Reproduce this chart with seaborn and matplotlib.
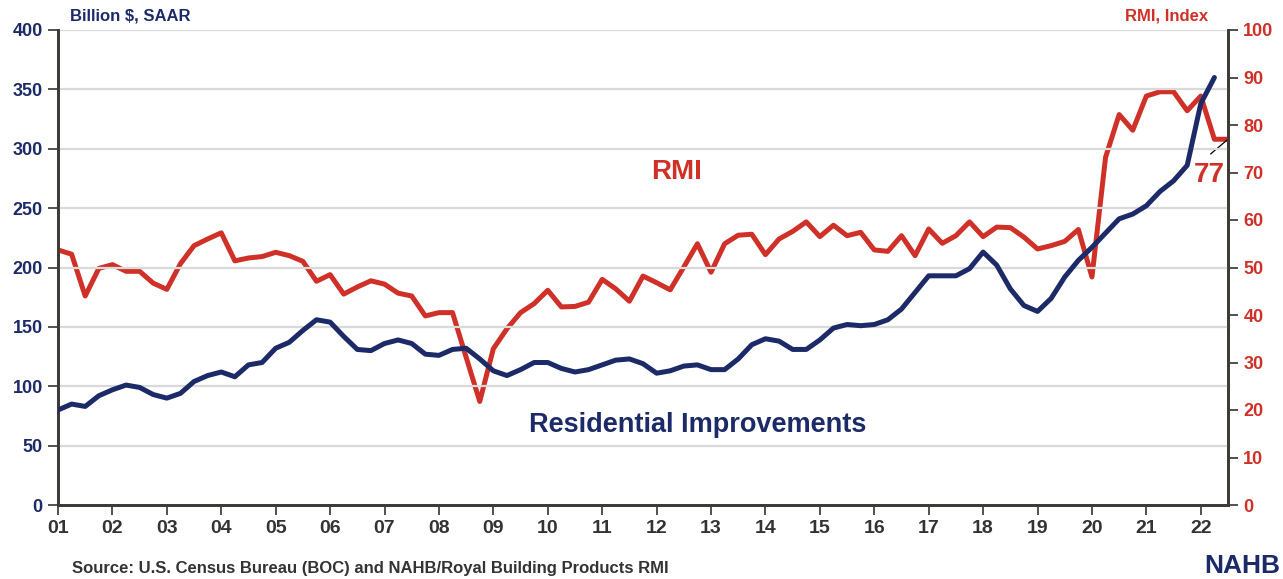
import numpy as np
import pandas as pd
import matplotlib
matplotlib.use("Agg")
import matplotlib.pyplot as plt
import seaborn as sns

# quarterly values, 2001 Q1 onward
residential_improvements = [
    80, 85, 83, 92, 97, 101, 99, 93, 90, 94, 104, 109,
    112, 108, 118, 120, 132, 137, 147, 156, 154, 142, 131, 130,
    136, 139, 136, 127, 126, 131, 132, 123, 113, 109, 114, 120,
    120, 115, 112, 114, 118, 122, 123, 119, 111, 113, 117, 118,
    114, 114, 123, 135, 140, 138, 131, 131, 139, 149, 152, 151,
    152, 156, 165, 179, 193, 193, 193, 199, 213, 202, 182, 168,
    163, 174, 192, 206, 217, 229, 241, 245, 252, 264, 273, 286,
    338, 360,
]
rmi_index = [
    53.7, 52.8, 44.0, 49.8, 50.6, 49.2, 49.2, 46.7, 45.4, 50.8, 54.6, 56.0,
    57.3, 51.4, 52.0, 52.3, 53.2, 52.5, 51.3, 47.1, 48.5, 44.4, 45.9, 47.2,
    46.5, 44.6, 44.0, 39.8, 40.5, 40.5, 31.1, 21.8, 32.9, 37.1, 40.5, 42.4,
    45.2, 41.7, 41.8, 42.7, 47.5, 45.5, 42.9, 48.2, 46.8, 45.3, 50.1, 55.0,
    49.0, 55.0, 56.8, 57.0, 52.7, 56.0, 57.6, 59.6, 56.5, 58.9, 56.7, 57.4,
    53.7, 53.4, 56.7, 52.5, 58.1, 55.1, 56.7, 59.6, 56.5, 58.5, 58.4, 56.4,
    53.9, 54.6, 55.5, 58.0, 48.0, 73.2, 82.2, 78.9, 86.1, 87.0, 87.0, 83.0,
    86.1, 77.0, 77.0,
]
year_ticks = list(range(2001, 2023))
year_labels = [f"{y % 100:02d}" for y in year_ticks]
left_ticks = [0, 50, 100, 150, 200, 250, 300, 350, 400]
right_ticks = [0, 10, 20, 30, 40, 50, 60, 70, 80, 90, 100]

NAVY = "#1C2B68"
RED = "#CF3128"
GRAY = "#333333"

ri = pd.DataFrame({"quarter": 2001 + np.arange(len(residential_improvements)) / 4,
                   "value": residential_improvements})
rmi = pd.DataFrame({"quarter": 2001 + np.arange(len(rmi_index)) / 4,
                    "value": rmi_index})

sns.set_style("white")
plt.rcParams["font.family"] = ["Liberation Sans", "DejaVu Sans"]

fig = plt.figure(figsize=(12.83, 5.79), dpi=100)
ax = fig.add_axes([58 / 1283, 1 - 505 / 579, 1170 / 1283, 475 / 579])
ax2 = ax.twinx()

# gridlines on the left scale
for v in left_ticks[1:]:
    ax.axhline(v, color="#D9D9D9", lw=1.6, zorder=0)

sns.lineplot(data=rmi, x="quarter", y="value", ax=ax2, color=RED, lw=3.6,
             zorder=3)
sns.lineplot(data=ri, x="quarter", y="value", ax=ax, color=NAVY, lw=3.6,
             zorder=3)
# draw RI above RMI: put left axes on top with transparent background
ax.set_zorder(ax2.get_zorder() + 1)
ax.patch.set_visible(False)

ax.set_xlim(2001, 2022.5)
ax.set_ylim(0, 400)
ax2.set_ylim(0, 100)

ax.set_xticks(year_ticks)
ax.set_xticklabels(year_labels, fontsize=14, fontweight="bold", color=GRAY)
ax.set_yticks(left_ticks)
ax.set_yticklabels([str(v) for v in left_ticks], fontsize=13,
                   fontweight="bold", color=NAVY)
ax2.set_yticks(right_ticks)
ax2.set_yticklabels([str(v) for v in right_ticks], fontsize=13,
                    fontweight="bold", color=RED)
ax.set_xlabel("")
ax.set_ylabel("")
ax2.set_ylabel("")

ax.tick_params(axis="x", direction="out", length=7, width=1.2, color=GRAY,
               pad=4, bottom=True)
ax.tick_params(axis="y", direction="out", length=7, width=1.2, color=GRAY,
               pad=4, left=True)
ax2.tick_params(axis="y", direction="out", length=7, width=1.2, color=GRAY,
                pad=4, right=True)

for a in (ax, ax2):
    a.spines["top"].set_visible(False)
    for s in ("left", "right", "bottom"):
        a.spines[s].set_color("#3F3A36")
        a.spines[s].set_linewidth(2)

# in-chart labels
ax2.text(2012.36, 70.1, "RMI", color=RED, fontsize=20, fontweight="bold",
         ha="center", va="center")
ax.text(2012.76, 67.4, "Residential Improvements", color=NAVY, fontsize=19.5,
        fontweight="bold", ha="center", va="center")

# last value callout
ax2.plot([2022.18, 2022.5], [73.9, 77.0], color="black", lw=0.9,
         clip_on=False, zorder=4)
ax2.text(2022.16, 69.4, "77", color=RED, fontsize=20, fontweight="bold",
         ha="center", va="center")

fig.text(70 / 1283, 1 - 16 / 579, "Billion $, SAAR", color=NAVY, fontsize=12,
         fontweight="bold", ha="left", va="center")
fig.text(1208 / 1283, 1 - 16 / 579, "RMI, Index", color=RED, fontsize=12,
         fontweight="bold", ha="right", va="center")
fig.text(72 / 1283, 1 - 569 / 579,
         "Source: U.S. Census Bureau (BOC) and NAHB/Royal Building Products RMI",
         color=GRAY, fontsize=12, fontweight="bold", ha="left", va="center")
fig.text(1280 / 1283, 1 - 566 / 579, "NAHB", color=NAVY, fontsize=19,
         fontweight="heavy", ha="right", va="center")

fig.savefig("out.png", dpi=100)
